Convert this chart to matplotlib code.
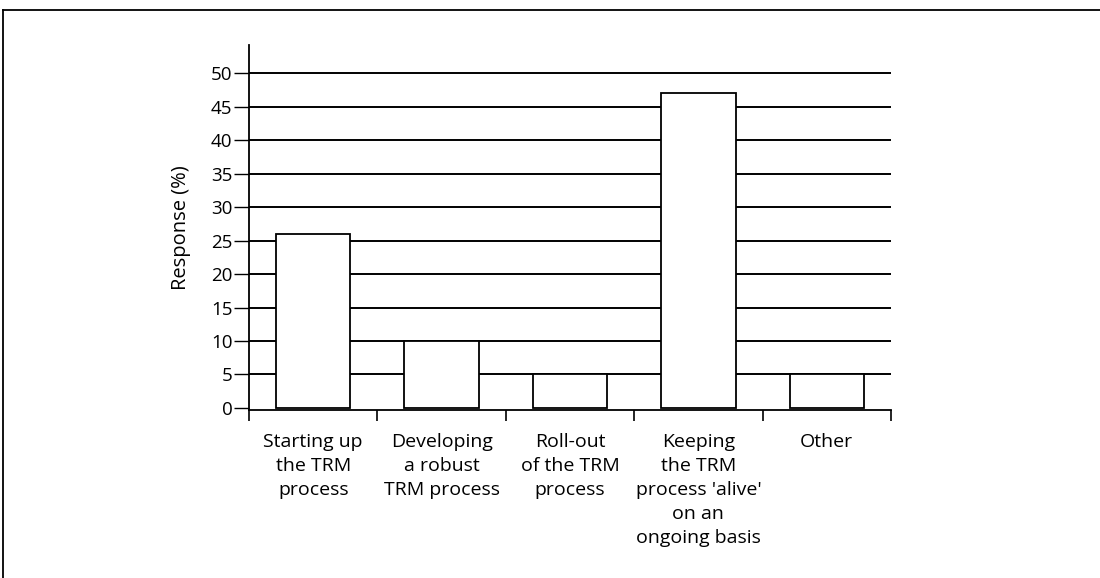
import matplotlib.pyplot as plt
from matplotlib.lines import Line2D

categories = [
    "Starting up\nthe TRM\nprocess",
    "Developing\na robust\nTRM process",
    "Roll-out\nof the TRM\nprocess",
    "Keeping\nthe TRM\nprocess 'alive'\non an\nongoing basis",
    "Other",
]
responses = [26, 10, 5, 47, 5]
y_ticks = [0, 5, 10, 15, 20, 25, 30, 35, 40, 45, 50]

plt.rcParams['font.family'] = ['Open Sans', 'DejaVu Sans']

fig = plt.figure(figsize=(11, 5.78), dpi=100)
ax = fig.add_axes([0.2264, 0.2907, 0.5836, 0.6313])

# horizontal rules behind the bars
for v in y_ticks[1:]:
    ax.axhline(v, color='black', linewidth=1.4, zorder=1)

x = list(range(len(categories)))
ax.bar(x, responses, width=0.58, color='white', edgecolor='black',
       linewidth=1.3, zorder=2)

ax.set_xlim(-0.5, len(categories) - 0.5)
ax.set_ylim(-0.3, 54.2)

ax.set_yticks(y_ticks)
ax.set_yticklabels([str(v) for v in y_ticks], fontsize=13.5)
ax.tick_params(axis='y', direction='out', length=11, width=1.0, pad=1)

# ticks on the category boundaries, labels under the centres
ax.set_xticks([i - 0.5 for i in range(len(categories) + 1)])
ax.set_xticklabels([])
ax.tick_params(axis='x', direction='out', length=8, width=1.2)
for i, lab in enumerate(categories):
    ax.text(i, -3.8, lab, ha='center', va='top', fontsize=14,
            linespacing=1.42)

ax.set_ylabel("Response (%)", fontsize=14.5, labelpad=14)

ax.spines['top'].set_visible(False)
ax.spines['right'].set_visible(False)
ax.spines['left'].set_linewidth(1.3)
ax.spines['bottom'].set_linewidth(1.3)

# outer frame
fig.add_artist(Line2D([0.003, 1.0], [0.983, 0.983], color='black',
                      linewidth=1.3, transform=fig.transFigure))
fig.add_artist(Line2D([0.003, 0.003], [0.0, 0.983], color='black',
                      linewidth=1.3, transform=fig.transFigure))

fig.savefig("out.png", dpi=100, facecolor='white')
